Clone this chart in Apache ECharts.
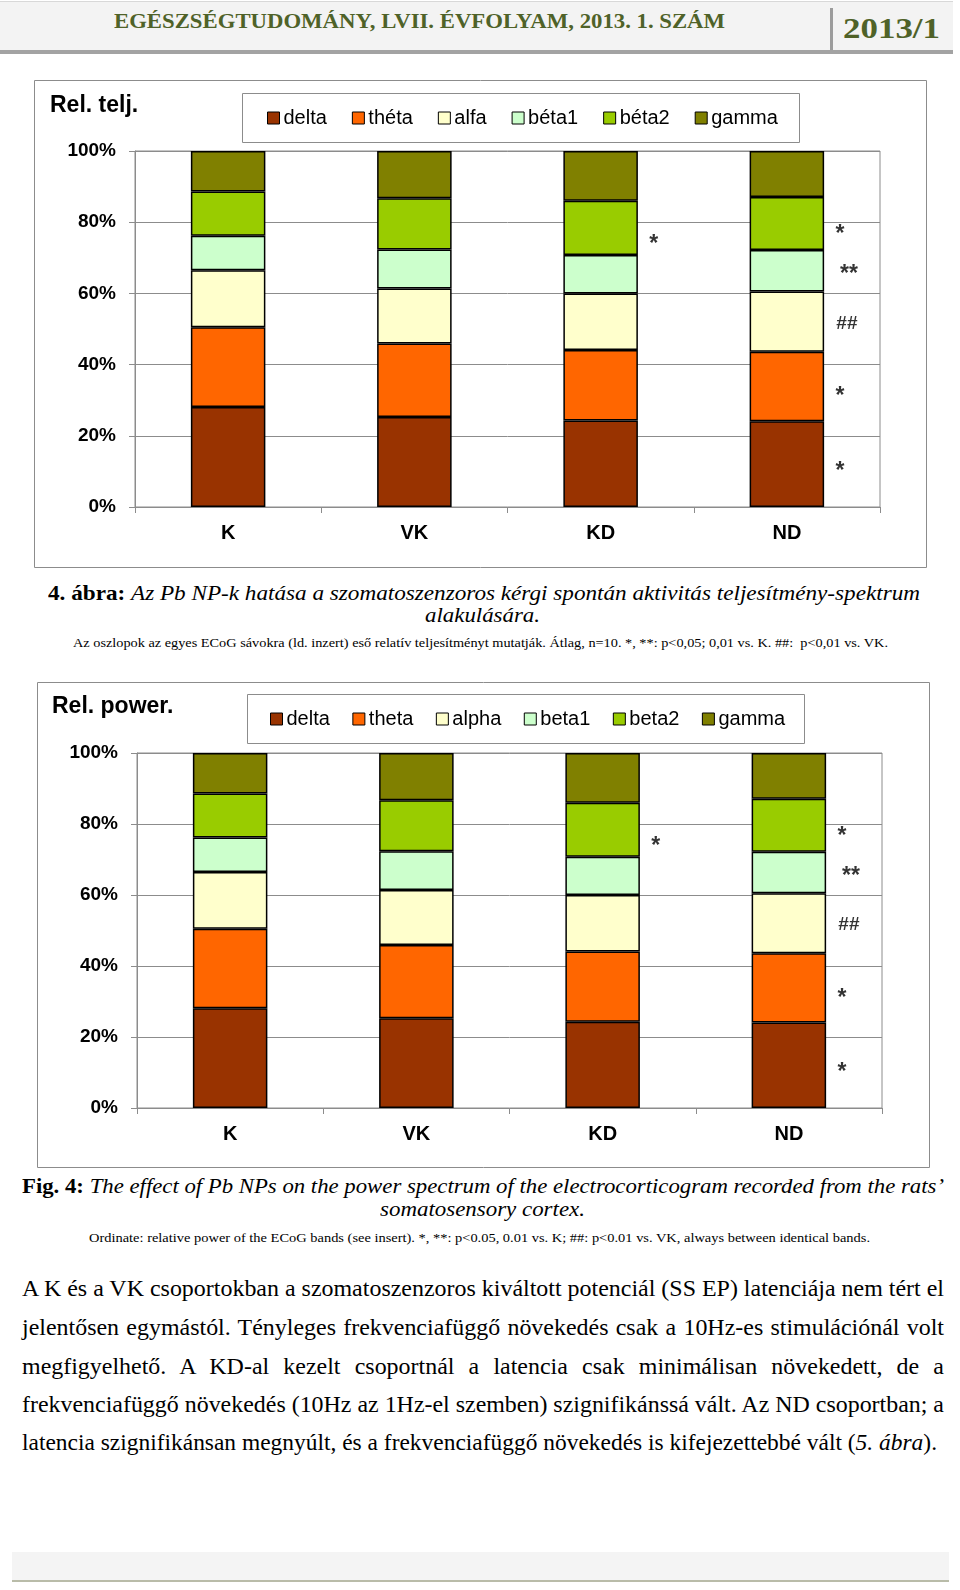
<!DOCTYPE html>
<html><head><meta charset="utf-8">
<script src="https://cdn.jsdelivr.net/npm/echarts/dist/echarts.min.js"></script>
<style>
html,body{margin:0;padding:0;background:#fff;width:960px;height:1590px;overflow:hidden;}
body{position:relative;font-family:'Liberation Serif','Times New Roman',serif;color:#000;}
.line{position:absolute;white-space:nowrap;}
.line span.t{display:inline-block;white-space:nowrap;transform-origin:0 50%;}
.chart{position:absolute;}
</style>
</head><body>
<!-- header -->
<div style="position:absolute;left:0;top:1px;width:953px;height:49px;background:#f3f3f3;border-top:1px solid #d8d8d8;"></div>
<div style="position:absolute;left:0;top:50px;width:953px;height:4px;background:#a3a3a3;"></div>
<div style="position:absolute;left:830px;top:8px;width:3px;height:42px;background:#9c9c9c;"></div>
<div class="line fit" data-l="114" data-w="611" data-c="21" data-fs="21" style="color:#4f6228;font-weight:bold;"><span class="t">EGÉSZSÉGTUDOMÁNY, LVII. ÉVFOLYAM, 2013. 1. SZÁM</span></div>
<div class="line fit" data-l="843" data-w="97" data-c="28" data-fs="29" style="color:#4f6228;font-weight:bold;"><span class="t">2013/1</span></div>

<div id="c1" class="chart" style="left:34px;top:80px;width:893px;height:488px;"></div>

<div class="line fit" data-l="48" data-w="872" data-c="593" data-fs="21"><span class="t"><b>4. ábra:</b> <i>Az Pb NP-k hatása a szomatoszenzoros kérgi spontán aktivitás teljesítmény-spektrum</i></span></div>
<div class="line fit" data-l="425" data-w="115" data-c="615" data-fs="21"><span class="t"><i>alakulására.</i></span></div>
<div class="line fit" data-l="73" data-w="815" data-c="642" data-fs="13"><span class="t">Az oszlopok az egyes ECoG sávokra (ld. inzert) eső relatív teljesítményt mutatják. Átlag, n=10. *, **: p&lt;0,05; 0,01 vs. K. ##:&nbsp; p&lt;0,01 vs. VK.</span></div>

<div id="c2" class="chart" style="left:37px;top:682px;width:893px;height:486px;"></div>

<div class="line fit" data-l="22" data-w="922" data-c="1186" data-fs="21"><span class="t"><b>Fig. 4:</b> <i>The effect of Pb NPs on the power spectrum of the electrocorticogram recorded from the rats’</i></span></div>
<div class="line fit" data-l="380" data-w="205" data-c="1209" data-fs="21"><span class="t"><i>somatosensory cortex.</i></span></div>
<div class="line fit" data-l="89" data-w="781" data-c="1237" data-fs="13"><span class="t">Ordinate: relative power of the ECoG bands (see insert). *, **: p&lt;0.05, 0.01 vs. K; ##: p&lt;0.01 vs. VK, always between identical bands.</span></div>

<div class="line para" data-l="22" data-w="922" data-c="1288" data-fs="23" data-j="1"><span class="t">A K és a VK csoportokban a szomatoszenzoros kiváltott potenciál (SS EP) latenciája nem tért el</span></div>
<div class="line para" data-l="22" data-w="922" data-c="1327" data-fs="23" data-j="1"><span class="t">jelentősen egymástól. Tényleges frekvenciafüggő növekedés csak a 10Hz-es stimulációnál volt</span></div>
<div class="line para" data-l="22" data-w="922" data-c="1366" data-fs="23" data-j="1"><span class="t">megfigyelhető. A KD-al kezelt csoportnál a latencia csak minimálisan növekedett, de a</span></div>
<div class="line para" data-l="22" data-w="922" data-c="1404" data-fs="23" data-j="1"><span class="t">frekvenciafüggő növekedés (10Hz az 1Hz-el szemben) szignifikánssá vált. Az ND csoportban; a</span></div>
<div class="line para" data-l="22" data-w="915" data-c="1442" data-fs="23" data-j="0"><span class="t">latencia szignifikánsan megnyúlt, és a frekvenciafüggő növekedés is kifejezettebbé vált (<i>5. ábra</i>).</span></div>

<div style="position:absolute;left:12px;top:1552px;width:937px;height:28px;background:#f4f4f4;border-bottom:2px solid #b9bca9;"></div>

<script>
// ---- data ----
const categories = ['K', 'VK', 'KD', 'ND'];
const delta = [28.1, 25.3, 24.3, 24.1];
const theta = [22.4, 20.6, 19.8, 19.5];
const alpha = [16.0, 15.5, 15.9, 16.9];
const beta1 = [9.7, 10.9, 10.8, 11.7];
const beta2 = [12.4, 14.4, 15.2, 14.9];
const gamma = [11.4, 13.3, 14.0, 12.9];
const bandsHu = ['delta', 'théta', 'alfa', 'béta1', 'béta2', 'gamma'];
const bandsEn = ['delta', 'theta', 'alpha', 'beta1', 'beta2', 'gamma'];
const yTicks = [0, 20, 40, 60, 80, 100];
// significance marks: category, vertical position (%), text
const markCats = ['KD', 'ND', 'ND', 'ND', 'ND', 'ND'];
const markValues = [75.0, 77.8, 66.6, 51.6, 32.3, 11.3];
const markTexts = ['*', '*', '**', '##', '*', '*'];

const bandData = [delta, theta, alpha, beta1, beta2, gamma];
const bandColors = ['#993300', '#ff6600', '#ffffcc', '#ccffcc', '#99cc00', '#808000'];
const SANS = "'Liberation Sans', Arial, sans-serif";

function markStyle(t) {
  // label style per mark symbol (size / horizontal shift right of the bar)
  if (t === '##') return {fontSize: 19, fontWeight: 'bold', offset: [60, 0]};
  if (t === '**') return {fontSize: 23, fontWeight: 'bold', offset: [62, 5]};
  return {fontSize: 23, fontWeight: 'bold', offset: [53, 5]};
}

function makeChart(id, cfg) {
  const dom = document.getElementById(id);
  const chart = echarts.init(dom, null, {renderer: 'canvas'});
  const W = dom.clientWidth, H = dom.clientHeight;
  const series = bandData.map((d, i) => ({
    name: cfg.names[i], type: 'bar', stack: 'all', barWidth: '40%',
    data: d, itemStyle: {color: bandColors[i], borderColor: '#000', borderWidth: 1.5},
    emphasis: {disabled: true}
  }));
  series.push({
    type: 'scatter', symbolSize: 1, silent: true, z: 10,
    itemStyle: {color: 'rgba(0,0,0,0)'},
    data: markCats.map((c, i) => ({
      value: [c, markValues[i]],
      label: markStyle(markTexts[i])
    })),
    label: {show: true, position: 'inside', align: 'center', verticalAlign: 'middle', color: '#000',
      fontFamily: SANS, fontSize: 23, formatter: p => markTexts[p.dataIndex]}
  });
  chart.setOption({
    animation: false,
    textStyle: {fontFamily: SANS},
    title: {text: cfg.title, left: cfg.titleLeft, top: cfg.titleTop, padding: 0,
      textStyle: {fontFamily: SANS, fontSize: 23, fontWeight: 'bold', color: '#000'}},
    legend: {data: cfg.names, left: cfg.legLeft, top: cfg.legTop, padding: 0,
      itemWidth: 12, itemHeight: 12, itemGap: cfg.legGap, icon: 'rect',
      itemStyle: {borderWidth: 1, borderColor: '#000'},
      textStyle: {fontFamily: SANS, fontSize: 20, color: '#000', padding: [0, 0, 0, -1]}},
    grid: {left: cfg.grid[0], right: cfg.grid[1], top: cfg.grid[2], bottom: cfg.grid[3],
      show: true, borderColor: '#8c8c8c', borderWidth: 1, containLabel: false},
    xAxis: {type: 'category', data: categories,
      axisLine: {lineStyle: {color: '#8c8c8c', width: 1}},
      axisTick: {show: true, length: 6, interval: 0, lineStyle: {color: '#8c8c8c'}},
      axisLabel: {margin: 16, fontFamily: SANS, fontSize: 20, fontWeight: 'bold', color: '#000'}},
    yAxis: {type: 'value', min: yTicks[0], max: yTicks[yTicks.length - 1], interval: yTicks[1] - yTicks[0],
      axisLine: {show: true, lineStyle: {color: '#8c8c8c', width: 1}},
      axisTick: {show: true, length: 6, lineStyle: {color: '#8c8c8c'}},
      splitLine: {lineStyle: {color: '#8c8c8c', width: 1}},
      axisLabel: {margin: 19, formatter: '{value}%', fontFamily: SANS, fontSize: 19, fontWeight: 'bold', color: '#000'}},
    graphic: [
      {type: 'rect', shape: {x: 0.5, y: 0.5, width: W - 1, height: H - 1},
        style: {fill: null, stroke: '#8c8c8c', lineWidth: 1}, silent: true, z: -1},
      {type: 'rect', shape: {x: cfg.box[0] + 0.5, y: cfg.box[1] + 0.5, width: cfg.box[2], height: cfg.box[3]},
        style: {fill: '#fff', stroke: '#8c8c8c', lineWidth: 1}, silent: true, z: -1}
    ],
    series: series
  });
}

makeChart('c1', {names: bandsHu, title: 'Rel. telj.', titleLeft: 16, titleTop: 14,
  legLeft: 233, legTop: 28, legGap: 25, grid: [101, 47, 71, 61], box: [208, 13, 557, 49]});
makeChart('c2', {names: bandsEn, title: 'Rel. power.', titleLeft: 15, titleTop: 13,
  legLeft: 233, legTop: 27, legGap: 22.5, grid: [100, 48, 71, 60], box: [210, 12, 557, 49]});

// ---- text fitting ----
document.querySelectorAll('.fit').forEach(el => {
  const fs = +el.dataset.fs, c = +el.dataset.c, l = +el.dataset.l, w = +el.dataset.w;
  el.style.fontSize = fs + 'px'; el.style.lineHeight = fs + 'px';
  el.style.left = l + 'px'; el.style.top = (c - fs / 2) + 'px';
  const sp = el.querySelector('.t');
  const nat = sp.getBoundingClientRect().width;
  sp.style.transform = 'scaleX(' + (w / nat) + ')';
});
// paragraph: common horizontal scale, justified
(function () {
  const paras = Array.from(document.querySelectorAll('.para'));
  paras.forEach(el => { const fs = +el.dataset.fs; el.style.fontSize = fs + 'px'; el.style.lineHeight = fs + 'px'; });
  const nats = paras.map(el => el.querySelector('.t').getBoundingClientRect().width);
  const s = (+paras[0].dataset.w) / nats[0];
  paras.forEach((el, k) => {
    const fs = +el.dataset.fs, c = +el.dataset.c, l = +el.dataset.l, w = +el.dataset.w;
    el.style.left = l + 'px'; el.style.top = (c - fs / 2) + 'px';
    const sp = el.querySelector('.t');
    const nat = nats[k];
    if (el.dataset.j === '1' && nat * s < w) {
      sp.style.width = (w / s) + 'px';
      sp.style.whiteSpace = 'normal';
      sp.style.textAlign = 'justify';
      sp.style.textAlignLast = 'justify';
      sp.style.transform = 'scaleX(' + s + ')';
    } else {
      sp.style.transform = 'scaleX(' + (w / nat) + ')';
    }
  });
})();
</script>
</body></html>
